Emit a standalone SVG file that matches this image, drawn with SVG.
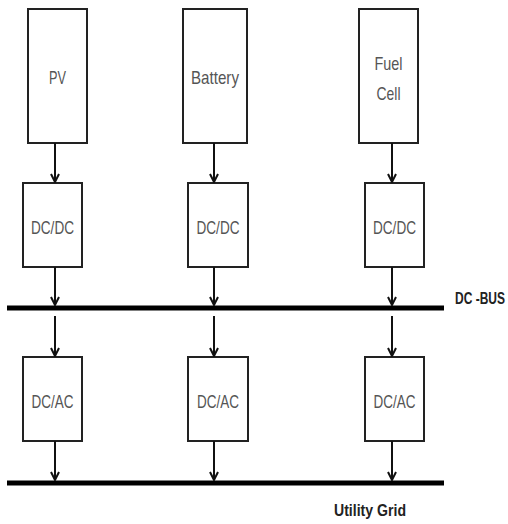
<svg xmlns="http://www.w3.org/2000/svg" width="508" height="524" viewBox="0 0 508 524">
<style>
.box{fill:#fff;stroke:#222;stroke-width:2}
.lbl{font-family:"Liberation Sans",Arial,sans-serif;font-size:19px;fill:#555;text-anchor:middle}
.bus{stroke:#000;stroke-width:5}
.arr{stroke:#111;stroke-width:2;fill:none;marker-end:url(#ah)}
.tag{font-family:"Liberation Sans",Arial,sans-serif;font-size:17px;font-weight:bold;fill:#222}
</style>
<defs>
<marker id="ah" viewBox="0 0 10 10" refX="9" refY="5" markerWidth="10" markerHeight="10" markerUnits="userSpaceOnUse" orient="auto">
<path d="M1,1 L9,5 L1,9" fill="none" stroke="#111" stroke-width="2"/>
</marker>
</defs>
<rect width="508" height="524" fill="#fff"/>
<g id="pv"><rect class="box" x="28" y="9" width="59" height="134"/><text class="lbl" x="57.5" y="84" textLength="17" lengthAdjust="spacingAndGlyphs">PV</text></g>
<g id="battery"><rect class="box" x="183" y="9" width="64" height="134"/><text class="lbl" x="215" y="84" textLength="48" lengthAdjust="spacingAndGlyphs">Battery</text></g>
<g id="fuelcell"><rect class="box" x="359" y="9" width="59" height="134"/><text class="lbl" x="388.5" y="70" textLength="28" lengthAdjust="spacingAndGlyphs">Fuel</text><text class="lbl" x="388.5" y="100" textLength="24" lengthAdjust="spacingAndGlyphs">Cell</text></g>
<g id="dcdc1"><rect class="box" x="23" y="183" width="59" height="84"/><text class="lbl" x="52.5" y="234" textLength="43" lengthAdjust="spacingAndGlyphs">DC/DC</text></g>
<g id="dcdc2"><rect class="box" x="188" y="183" width="60" height="84"/><text class="lbl" x="218" y="234" textLength="43" lengthAdjust="spacingAndGlyphs">DC/DC</text></g>
<g id="dcdc3"><rect class="box" x="365" y="183" width="59" height="84"/><text class="lbl" x="394.5" y="234" textLength="43" lengthAdjust="spacingAndGlyphs">DC/DC</text></g>
<g id="dcac1"><rect class="box" x="23" y="357" width="59" height="84"/><text class="lbl" x="52.5" y="408" textLength="42" lengthAdjust="spacingAndGlyphs">DC/AC</text></g>
<g id="dcac2"><rect class="box" x="188" y="357" width="60" height="84"/><text class="lbl" x="218" y="408" textLength="42" lengthAdjust="spacingAndGlyphs">DC/AC</text></g>
<g id="dcac3"><rect class="box" x="365" y="357" width="59" height="84"/><text class="lbl" x="394.5" y="408" textLength="42" lengthAdjust="spacingAndGlyphs">DC/AC</text></g>
<g id="dcbus"><line class="bus" x1="7" y1="308" x2="444" y2="308"/><text class="tag" transform="translate(455,304) scale(1,1.3)" x="0" y="0" style="font-size:12px">DC -BUS</text></g>
<g id="grid"><line class="bus" x1="7" y1="483" x2="444" y2="483"/><text class="tag" x="334" y="516" textLength="72" lengthAdjust="spacingAndGlyphs">Utility Grid</text></g>
<g id="connectors">
<line class="arr" x1="55" y1="143" x2="55" y2="182"/>
<line class="arr" x1="214" y1="143" x2="214" y2="182"/>
<line class="arr" x1="392" y1="143" x2="392" y2="182"/>
<line class="arr" x1="55" y1="267" x2="55" y2="305"/>
<line class="arr" x1="214" y1="267" x2="214" y2="305"/>
<line class="arr" x1="392" y1="267" x2="392" y2="305"/>
<line class="arr" x1="55" y1="316" x2="55" y2="356"/>
<line class="arr" x1="214" y1="316" x2="214" y2="356"/>
<line class="arr" x1="392" y1="316" x2="392" y2="356"/>
<line class="arr" x1="55" y1="441" x2="55" y2="480"/>
<line class="arr" x1="214" y1="441" x2="214" y2="480"/>
<line class="arr" x1="392" y1="441" x2="392" y2="480"/>
</g>
</svg>
